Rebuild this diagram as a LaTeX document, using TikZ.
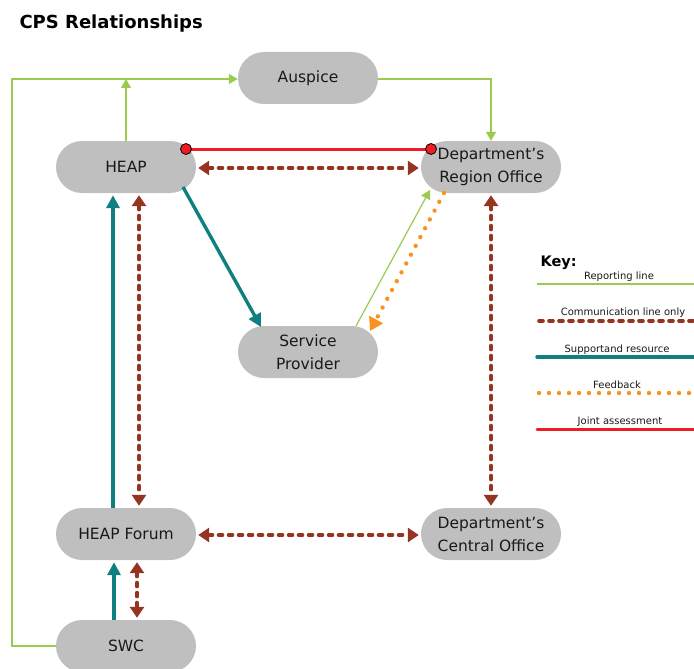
\documentclass[tikz,border=0pt]{standalone}
\usepackage{fontspec}
\setmainfont{DejaVu Sans}
\usetikzlibrary{arrows.meta,calc}
\definecolor{repc}{HTML}{9BCB4E}
\definecolor{comc}{HTML}{943421}
\definecolor{supc}{HTML}{107F7F}
\definecolor{fbc}{HTML}{F7931E}
\definecolor{jac}{HTML}{EE1C25}
\definecolor{boxc}{HTML}{BFBFBF}
\tikzset{
  box/.style={draw=none,fill=boxc,rounded corners=26pt,minimum width=140pt,minimum height=52pt,inner sep=0pt,align=center,font=\fontsize{15.5}{23}\selectfont,text=black!90},
  repline/.style={draw=repc,line width=1.2pt},
  repar/.style={repline,-{Triangle[length=9pt,width=10pt]}},
  comline/.style={draw=comc,line width=3.6pt,dash pattern=on 4pt off 6pt,line cap=round},
  comar/.style={comline,{Triangle[length=11pt,width=14pt]}-{Triangle[length=11pt,width=14pt]}},
  supline/.style={draw=supc,line width=3.4pt},
  supar/.style={supline,-{Triangle[length=13pt,width=13pt]}},
  fbline/.style={draw=fbc,line width=4.4pt,dash pattern=on 0pt off 10pt,line cap=round},
  fbar/.style={fbline,-{Triangle[length=13pt,width=15pt]}},
  jaline/.style={draw=jac,line width=3pt},
  jadot/.style={circle,draw=black,line width=0.8pt,fill=jac,minimum size=11pt,inner sep=0pt},
  keytxt/.style={font=\fontsize{10}{11}\selectfont,text=black!90,anchor=base},
}
\begin{document}
\begin{tikzpicture}[x=1pt,y=-1pt]
\useasboundingbox (0,0) rectangle (694,669);
\clip (0,0) rectangle (694,669);

\node[anchor=base west,font=\fontsize{18}{20}\selectfont\bfseries] (title) at (16,29) {CPS Relationships};

\node[box] (aus) at (308,78) {Auspice};
\node[box] (heap) at (126,167) {HEAP};
\node[box] (reg) at (491,167) {Department’s\\Region Office};
\node[box] (sp) at (308,352) {Service\\Provider};
\node[box] (forum) at (126,534) {HEAP Forum};
\node[box] (cen) at (491,534) {Department’s\\Central Office};
\node[box] (swc) at (126,646) {SWC};

% reporting lines
\coordinate (lt) at (12,79);
\coordinate (lb) at (12,646);
\coordinate (ht) at (126,79);
\coordinate (rt) at (491,79);
\draw[repar] (swc.west) -- (lb) -- (lt) -- (aus.west |- lt);
\draw[repar] (heap.north) -- (ht);
\draw[repar] (aus.east |- rt) -- (rt) -- (reg.north);
\draw[repar] ($(sp.center)+(48,-26)$) -- ($(reg.center)+(-61,23)$);

% joint assessment
\coordinate (ja1) at ($(heap.center)+(60,-18)$);
\coordinate (ja2) at ($(reg.center)+(-60,-18)$);
\draw[jaline] (ja1) -- (ja2);
\node[jadot] (d1) at (ja1) {};
\node[jadot] (d2) at (ja2) {};

% communication
\draw[comar] ($(heap.east)+(2,1)$) -- ($(reg.west)+(-2,1)$);
\draw[comar] ($(heap.south)+(13,2)$) -- ($(forum.north)+(13,-2)$);
\draw[comar] ($(reg.south)+(0,2)$) -- ($(cen.north)+(0,-2)$);
\draw[comar] ($(forum.east)+(2,1)$) -- ($(cen.west)+(-2,1)$);
\draw[comar] ($(forum.south)+(11,2)$) -- ($(swc.north)+(11,-2)$);

% support
\draw[supar] ($(heap.center)+(57,20)$) -- ($(sp.center)+(-47,-25)$);
\draw[supar] ($(forum.north)+(-13,0)$) -- ($(heap.south)+(-13,2)$);
\draw[supar] ($(swc.north)+(-12,0)$) -- ($(forum.south)+(-12,2)$);

% feedback
\draw[fbar] ($(reg.center)+(-47,26)$) -- ($(sp.center)+(62,-21)$);

% key
\node[anchor=base west,font=\fontsize{14.5}{16}\selectfont\bfseries] (keyt) at (537,266) {Key:};
\node[keytxt] (k1) at (619,279) {Reporting line};
\node[keytxt] (k2) at (623,315.5) {Communication line only};
\node[keytxt] (k3) at (617,352) {Supportand resource};
\node[keytxt] (k4) at (617,388) {Feedback};
\node[keytxt] (k5) at (620,424) {Joint assessment};
\coordinate (a1) at (537,284); \coordinate (b1) at (700,284);
\coordinate (a2) at (539,321); \coordinate (b2) at (700,321);
\coordinate (a3) at (537,357); \coordinate (b3) at (700,357);
\coordinate (a4) at (539,393); \coordinate (b4) at (700,393);
\coordinate (a5) at (537,429); \coordinate (b5) at (700,429);
\draw[repline] (a1) -- (b1);
\draw[comline] (a2) -- (b2);
\draw[supline,line cap=round] (a3) -- (b3);
\draw[fbline] (a4) -- (b4);
\draw[jaline,line cap=round] (a5) -- (b5);
\end{tikzpicture}
\end{document}
